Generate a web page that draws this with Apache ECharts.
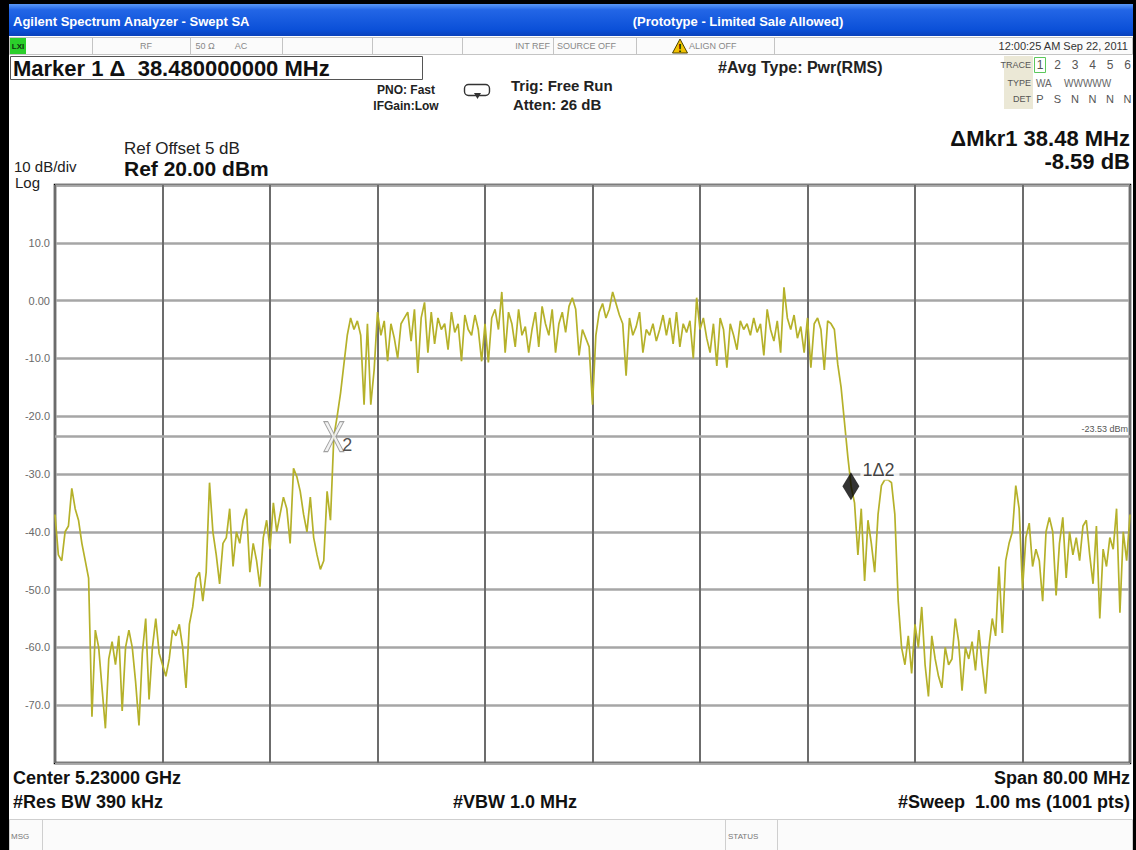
<!DOCTYPE html>
<html>
<head>
<meta charset="utf-8">
<script src="https://cdn.jsdelivr.net/npm/echarts@6/dist/echarts.min.js"></script>
<style>
  html, body { margin: 0; padding: 0; background: #fff; }
  #chart { width: 1136px; height: 850px; }
</style>
</head>
<body>
<div id="chart"></div>
<script>
// Swept SA measurement: 5.23 GHz centre, 80 MHz span, trace sampled every 0.25 MHz
const centerGHz = 5.23;
const spanMHz = 80;
const sampleStepMHz = 0.25;
const freqDivMHz = 8;

const refLevelDbm = 20;
const bottomLevelDbm = -80;
const dbPerDiv = 10;
const refOffsetDb = 5;

// Trace 1 levels (dBm), from the low edge of the span upwards
const traceDbm = [
  -37, -44, -45, -40, -39, -32.5, -36, -38, -42, -45,
  -48, -72, -57, -60, -67, -74, -62, -59, -63, -58,
  -71, -60, -57, -60, -66, -73.5, -61, -55, -69, -60,
  -55, -61, -63, -65, -62, -57, -58, -56, -60, -67,
  -56, -53, -48, -47, -52, -47, -31.5, -40, -44, -49,
  -42, -41, -36, -46, -40, -42, -38, -36, -47, -42,
  -45, -49.5, -41, -38, -43, -35, -40, -37, -34, -36,
  -42, -29, -30.5, -33, -37, -40, -34, -41, -44, -46.5,
  -45, -33, -38, -23.53, -20, -16, -11, -6, -3, -5,
  -3.5, -6, -18, -4, -18, -12, -2, -6, -3.5, -10.5,
  -4, -6.5, -10, -4, -3, -2, -7, -1.5, -12.5, -3,
  -0.3, -9, -2, -7.5, -3, -5, -4, -8.5, -2, -5.5,
  -4, -10.5, -2.5, -5, -6, -2.5, -5, -10.5, -4, -10.7,
  -3, -1.5, -5, 1.5, -9, -2, -4, -8, -1.5, -6,
  -4.5, -9, -5, -2, -8, -1, -4, -6, -1.5, -9,
  -4, -2, -5.5, -1, 0.5, -1.5, -9.5, -5, -6.5, -8,
  -18, -6, -2, -0.5, -3, -1.5, 1.5, -0.5, -2.5, -4,
  -13, -3, -6, -4.5, -2, -9, -5, -6, -4, -7,
  -5, -2.5, -6, -3, -7.5, -2, -8, -4, -5.5, -3.5,
  -10, 0.5, -5, -3, -6.5, -9, -4, -11.3, -3, -5,
  -11.6, -4, -6, -8.5, -3.5, -5, -4, -6, -3, -5.5,
  -4, -9.5, -1.5, -5, -7, -3.5, -9, 2.3, -3, -5,
  -2.5, -6.5, -4.5, -9, -3, -11.6, -4, -3, -5, -12,
  -3.5, -4, -5, -11, -15, -21, -27, -32.2, -35, -44,
  -36, -48.5, -38, -42, -47, -37, -32, -31, -31, -31.5,
  -37, -52, -60, -63, -58, -64.5, -56, -60, -53, -63,
  -68.5, -58, -62, -65, -67, -60, -63, -62, -55, -59,
  -67.5, -60, -62, -59, -64, -57, -63, -68, -60, -55,
  -58, -46, -57.5, -45, -42, -40, -32, -36, -50, -41,
  -38.5, -46, -43, -45, -52, -40, -37.5, -40, -51, -42,
  -37.5, -48, -40, -44, -41, -45, -39, -38, -44, -49,
  -39, -55, -43, -46, -41, -43, -36, -54, -40, -45,
  -37
];

// Display line and markers (frequency as offset from centre, MHz)
const displayLineDbm = -23.53;
const marker2 = { offsetMHz: -19.25, levelDbm: -23.53 };
const deltaMHz = 38.48;
const deltaDb = -8.59;
const marker1 = { offsetMHz: marker2.offsetMHz + deltaMHz, levelDbm: marker2.levelDbm + deltaDb };

const traceData = traceDbm.map((v, i) => [-spanMHz / 2 + i * sampleStepMHz, v]);

const SANS = '"Liberation Sans", Arial, sans-serif';

function txt(x, y, text, opt) {
  opt = opt || {};
  return {
    type: 'text', x: x, y: y, silent: true, z: 10,
    style: {
      text: text,
      font: (opt.weight || 'normal') + ' ' + (opt.size || 12) + 'px ' + (opt.family || SANS),
      fill: opt.color || '#111',
      textAlign: opt.align || 'left',
      textVerticalAlign: 'middle'
    }
  };
}
function rect(x, y, w, h, fill, stroke, lw, r) {
  return {
    type: 'rect', silent: true, z: 5,
    shape: { x: x, y: y, width: w, height: h, r: r || 0 },
    style: { fill: fill, stroke: stroke || null, lineWidth: lw || 0 }
  };
}
function vline(x, y1, y2, color, lw) {
  return {
    type: 'line', silent: true, z: 6,
    shape: { x1: x, y1: y1, x2: x, y2: y2 },
    style: { stroke: color, lineWidth: lw || 1 }
  };
}

const statusDividers = [92, 190, 282, 372, 462, 553, 636, 774];
const traceCols = [1040, 1057.5, 1075, 1092.5, 1110, 1127.5];

const graphics = [
  // window frame
  rect(0, 0, 1136, 4, '#000'),
  rect(0, 0, 9, 850, '#000'),
  rect(1133, 0, 3, 850, '#000'),
  // title bar
  {
    type: 'rect', silent: true, z: 5,
    shape: { x: 9, y: 4, width: 1124, height: 32 },
    style: {
      fill: {
        type: 'linear', x: 0, y: 0, x2: 0, y2: 1,
        colorStops: [
          { offset: 0, color: '#5a98f6' },
          { offset: 0.18, color: '#2366e6' },
          { offset: 0.8, color: '#0b50d8' },
          { offset: 1, color: '#0a42bc' }
        ]
      }
    }
  },
  txt(13, 21, 'Agilent Spectrum Analyzer - Swept SA', { weight: 'bold', size: 13, color: '#fff' }),
  txt(738, 21, '(Prototype - Limited Sale Allowed)', { weight: 'bold', size: 13, color: '#fff', align: 'center' }),
  // status row
  rect(9.5, 37.5, 1123, 17, '#fbfbfb', '#c4c4c4', 1),
  rect(10, 38, 16, 16, '#2bcf2b'),
  txt(18, 46, 'LXI', { weight: 'bold', size: 8, color: '#113311', align: 'center' }),
  txt(146, 46, 'RF', { size: 9, color: '#888', align: 'center' }),
  txt(205, 46, '50 Ω', { size: 9, color: '#888', align: 'center' }),
  txt(241, 46, 'AC', { size: 9, color: '#888', align: 'center' }),
  txt(550, 46, 'INT REF', { size: 9, color: '#888', align: 'right' }),
  txt(557, 46, 'SOURCE OFF', { size: 9, color: '#888' }),
  {
    type: 'polygon', silent: true, z: 8,
    shape: { points: [[680, 39], [687.5, 53], [672.5, 53]] },
    style: { fill: '#f2c200', stroke: '#4a4000', lineWidth: 1 }
  },
  txt(680, 48, '!', { weight: 'bold', size: 10, color: '#000', align: 'center' }),
  txt(689, 46, 'ALIGN OFF', { size: 9, color: '#888' }),
  txt(1128, 46, '12:00:25 AM Sep 22, 2011', { size: 11, color: '#333', align: 'right' }),
  // marker readout box
  rect(10.5, 56.5, 412, 23, '#fff', '#555', 1),
  txt(13, 68.5, 'Marker 1 Δ  38.480000000 MHz', { weight: 'bold', size: 22, color: '#111' }),
  txt(406, 90, 'PNO: Fast', { weight: 'bold', size: 12, color: '#222', align: 'center' }),
  txt(406, 106, 'IFGain:Low', { weight: 'bold', size: 12, color: '#222', align: 'center' }),
  rect(464.5, 84.5, 25, 11, null, '#333', 1.4, 4),
  {
    type: 'polygon', silent: true, z: 8,
    shape: { points: [[474, 93], [481, 93], [477.5, 99]] },
    style: { fill: '#333' }
  },
  txt(511, 85, 'Trig: Free Run', { weight: 'bold', size: 15, color: '#222' }),
  txt(513, 104, 'Atten: 26 dB', { weight: 'bold', size: 15, color: '#222' }),
  txt(718, 67, '#Avg Type: Pwr(RMS)', { weight: 'bold', size: 16, color: '#222' }),
  // trace / detector table
  rect(1004, 56, 29, 53, '#ebe8d6'),
  rect(1033, 56, 99, 53, '#fff'),
  txt(1031, 65, 'TRACE', { size: 9, color: '#555', align: 'right' }),
  txt(1031, 83, 'TYPE', { size: 9, color: '#555', align: 'right' }),
  txt(1031, 99, 'DET', { size: 9, color: '#555', align: 'right' }),
  rect(1034.5, 57.5, 11, 15, null, '#5cc85c', 1),
  txt(1036, 83, 'WA', { size: 10, color: '#666' }),
  txt(1064, 83, 'WWWWW', { size: 10, color: '#666' }),
  // scale annotations
  txt(124, 148, 'Ref Offset ' + refOffsetDb + ' dB', { size: 17, color: '#222' }),
  txt(124, 168, 'Ref ' + refLevelDbm.toFixed(2) + ' dBm', { weight: 'bold', size: 21, color: '#111' }),
  txt(14, 166, dbPerDiv + ' dB/div', { size: 15, color: '#222' }),
  txt(15, 182, 'Log', { size: 15, color: '#222' }),
  txt(1130, 138, 'ΔMkr1 ' + deltaMHz.toFixed(2) + ' MHz', { weight: 'bold', size: 22, color: '#111', align: 'right' }),
  txt(1130, 161, deltaDb.toFixed(2) + ' dB', { weight: 'bold', size: 22, color: '#111', align: 'right' }),
  // frequency annotations
  txt(13, 778, 'Center ' + centerGHz.toFixed(5) + ' GHz', { weight: 'bold', size: 18, color: '#111' }),
  txt(13, 802, '#Res BW 390 kHz', { weight: 'bold', size: 18, color: '#111' }),
  txt(515, 802, '#VBW 1.0 MHz', { weight: 'bold', size: 18, color: '#111', align: 'center' }),
  txt(1130, 778, 'Span ' + spanMHz.toFixed(2) + ' MHz', { weight: 'bold', size: 18, color: '#111', align: 'right' }),
  txt(1130, 802, '#Sweep  1.00 ms (1001 pts)', { weight: 'bold', size: 18, color: '#111', align: 'right' }),
  // message / status bar
  rect(9.5, 819.5, 1123, 31, '#fbfbfb', '#cfcfcf', 1),
  vline(42.5, 820, 850, '#cfcfcf', 1),
  vline(725.5, 820, 850, '#cfcfcf', 1),
  vline(777.5, 820, 850, '#cfcfcf', 1),
  txt(11, 836, 'MSG', { size: 8, color: '#777' }),
  txt(728, 836, 'STATUS', { size: 8, color: '#777' })
];
statusDividers.forEach(x => graphics.push(vline(x + 0.5, 38, 55, '#c4c4c4', 1)));
['1', '2', '3', '4', '5', '6'].forEach((t, k) =>
  graphics.push(txt(traceCols[k], 65, t, { size: 12, color: '#555', align: 'center' })));
['P', 'S', 'N', 'N', 'N', 'N'].forEach((t, k) =>
  graphics.push(txt(traceCols[k], 99, t, { size: 11, color: '#555', align: 'center' })));

const chart = echarts.init(document.getElementById('chart'), null, { renderer: 'svg' });

chart.setOption({
  backgroundColor: '#fff',
  animation: false,
  grid: {
    left: 55, top: 185, width: 1075, height: 578,
    show: true, borderColor: '#000', borderWidth: 2.5, backgroundColor: '#fff'
  },
  xAxis: {
    type: 'value',
    min: -spanMHz / 2, max: spanMHz / 2, interval: freqDivMHz,
    axisLine: { show: false }, axisTick: { show: false }, axisLabel: { show: false },
    splitLine: { show: true, lineStyle: { color: '#6c6c6c', width: 2 } }
  },
  yAxis: {
    type: 'value',
    min: bottomLevelDbm, max: refLevelDbm, interval: dbPerDiv,
    axisLine: { show: false }, axisTick: { show: false },
    axisLabel: {
      show: true, margin: 5, color: '#6a6a6a', fontSize: 11, fontFamily: SANS,
      showMinLabel: false, showMaxLabel: false,
      formatter: v => (v === 0 ? '0.00' : v.toFixed(1))
    },
    splitLine: { show: true, lineStyle: { color: '#a6a6a6', width: 2.5 } }
  },
  graphic: graphics,
  series: [
    {
      name: 'Trace 1',
      type: 'line',
      data: traceData,
      showSymbol: false,
      symbol: 'none',
      z: 3,
      lineStyle: { color: '#b5b12a', width: 1.7 },
      markLine: {
        silent: true,
        symbol: 'none',
        lineStyle: { color: '#a6a6a6', width: 2.5, type: 'solid' },
        label: {
          show: true, position: 'insideEndTop', distance: [2, 3],
          formatter: displayLineDbm.toFixed(2) + ' dBm',
          fontSize: 9, color: '#555', fontFamily: SANS
        },
        data: [{ yAxis: displayLineDbm }]
      }
    },
    {
      name: 'Marker 2',
      type: 'scatter',
      z: 5,
      data: [[marker2.offsetMHz, marker2.levelDbm]],
      symbol: 'path://M0,0 L4,0 L10,12 L16,0 L20,0 L12,15 L20,30 L16,30 L10,18 L4,30 L0,30 L8,15 Z',
      symbolSize: [20, 30],
      itemStyle: { color: '#f0f0f0', borderColor: '#8a8a8a', borderWidth: 1 },
      label: {
        show: true, formatter: '2', position: 'right', distance: -2, offset: [0, 8],
        fontSize: 18, color: '#222', fontFamily: SANS
      }
    },
    {
      name: 'Marker 1',
      type: 'scatter',
      z: 6,
      data: [[marker1.offsetMHz, marker1.levelDbm]],
      symbol: 'diamond',
      symbolSize: [17, 28],
      itemStyle: { color: '#000' },
      label: {
        show: true, formatter: '1Δ2', position: 'right', distance: 1, offset: [0, -16],
        fontSize: 18, color: '#111', fontFamily: SANS,
        backgroundColor: '#fff', padding: [1, 5, 1, 2]
      }
    }
  ]
});
</script>
</body>
</html>
